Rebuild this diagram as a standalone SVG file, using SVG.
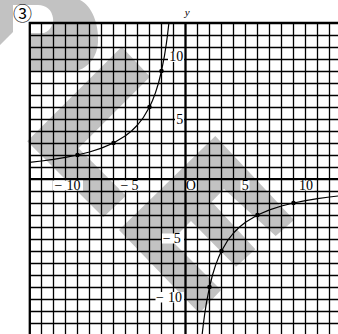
<svg xmlns="http://www.w3.org/2000/svg" width="338" height="334" viewBox="0 0 338 334">
<style>
.wm{fill:#c2c2c2;stroke:none}
.thin{stroke:#000;stroke-width:1.3;fill:none}
.thick{stroke:#000;stroke-width:2.3;fill:none}
.curve{stroke:#000;stroke-width:1.2;fill:none;stroke-linejoin:round}
.dot{fill:#000}
.lbl{font-family:"Liberation Serif","Times New Roman",serif;font-size:14px;fill:#000}
.bg{fill:#fff}
</style>
<rect width="338" height="334" fill="#fff"/>
<g id="watermark">
<path class="wm" d="M0,0 H80 C92,6 99,24 98,42 C97,60 85,72 68,72 H30 V33 H44 C50,31 54,24 53,18 C52,10 46,5 38,5 H13 V32 L0,45 Z"/>
<path class="wm" d="M121.7,46.7 L150,76.7 L78.5,148.2 L126,195.7 L103.3,217.3 L27.2,141.2 Z"/>
<path class="wm" d="M215.3,136 L294,220 L275.7,236 L224,189 L211.7,201.7 L255.3,249.3 L236,266.7 L191,221 L171.5,240.5 L221,290 L199.3,313.3 L119,230 Z"/>
</g>
<g id="grid">
<path class="thin" d="M41.5 23V334M53.5 23V334M65.5 23V334M77.5 23V334M89.5 23V334M101.5 23V334M113.5 23V334M125.5 23V334M137.5 23V334M149.5 23V334M161.5 23V334M173.5 23V334M197.5 23V334M209.5 23V334M221.5 23V334M233.5 23V334M245.5 23V334M257.5 23V334M269.5 23V334M281.5 23V334M293.5 23V334M305.5 23V334M317.5 23V334M329.5 23V334"/>
<path class="thin" d="M29.5 35.5H338M29.5 47.5H338M29.5 59.5H338M29.5 71.5H338M29.5 83.5H338M29.5 95.5H338M29.5 107.5H338M29.5 119.5H338M29.5 131.5H338M29.5 143.5H338M29.5 155.5H338M29.5 167.5H338M29.5 191.5H338M29.5 203.5H338M29.5 215.5H338M29.5 227.5H338M29.5 239.5H338M29.5 251.5H338M29.5 263.5H338M29.5 275.5H338M29.5 287.5H338M29.5 299.5H338M29.5 311.5H338M29.5 323.5H338"/>
<path class="thick" d="M29.8 22V334M185.5 22V334M28.7 23H338M28.7 179.2H338"/>
</g>
<g id="curve">
<path class="curve" d="M29.5,162.4 L41.5,161 L53.5,159.4 L65.5,157.4 L77.5,155 L89.5,152 L101.5,148.1 L113.5,143 L125.5,135.8 L131.5,131 L137.5,125 L143.5,117.3 L149.5,107 L152.5,100.5 L155.5,92.6 L158.5,83 L161.5,71 L164.5,55.6 L166.3,44 L167.5,35 L168.9,23"/>
<path class="curve" d="M202.2,334 L203.5,323 L204.7,314 L206.5,302.4 L209.5,287 L212.5,275 L215.5,265.4 L218.5,257.6 L221.5,251 L227.5,240.7 L233.5,233 L239.5,227 L245.5,222.2 L257.5,215 L269.5,209.9 L281.5,206 L293.5,203 L305.5,200.6 L317.5,198.6 L329.5,197 L338,196"/>
<circle class="dot" cx="77.5" cy="155" r="2.3"/>
<circle class="dot" cx="113.5" cy="143" r="2.3"/>
<circle class="dot" cx="149.5" cy="107" r="2.3"/>
<circle class="dot" cx="161.5" cy="71" r="2.3"/>
<circle class="dot" cx="209.5" cy="287" r="2.3"/>
<circle class="dot" cx="221.5" cy="251" r="2.3"/>
<circle class="dot" cx="257.5" cy="215" r="2.3"/>
<circle class="dot" cx="293.5" cy="203" r="2.3"/>
</g>
<g id="labels">
<rect class="bg" x="53" y="180.5" width="30" height="10"/>
<text class="lbl" x="54.5" y="190">−<tspan dx="4">10</tspan></text>
<rect class="bg" x="119.5" y="180.5" width="20" height="10"/>
<text class="lbl" x="120.5" y="190">−<tspan dx="3">5</tspan></text>
<rect class="bg" x="186.5" y="180.5" width="10" height="10"/>
<text class="lbl" x="190.8" y="190" text-anchor="middle">O</text>
<rect class="bg" x="240.5" y="180.5" width="9" height="10"/>
<text class="lbl" x="245.3" y="190" text-anchor="middle">5</text>
<rect class="bg" x="297.5" y="180.5" width="17" height="10"/>
<text class="lbl" x="305.9" y="190" text-anchor="middle">10</text>
<rect class="bg" x="168" y="51.5" width="16" height="10.5"/>
<text class="lbl" x="176.3" y="61" text-anchor="middle">10</text>
<rect class="bg" x="175" y="114" width="9" height="10"/>
<text class="lbl" x="179.7" y="123.5" text-anchor="middle">5</text>
<rect class="bg" x="162" y="233.5" width="22" height="10"/>
<text class="lbl" x="162.8" y="243">−<tspan dx="3">5</tspan></text>
<rect class="bg" x="155.5" y="292" width="28.5" height="10.5"/>
<text class="lbl" x="156" y="302">−<tspan dx="4">10</tspan></text>
<text x="187.3" y="16" text-anchor="middle" style="font-family:'Liberation Serif',serif;font-style:italic;font-size:11px">y</text>
<text x="22.5" y="21" text-anchor="middle" style="font-family:'Noto Sans CJK JP','Noto Sans CJK SC',sans-serif;font-size:19px">③</text>
</g>
</svg>
